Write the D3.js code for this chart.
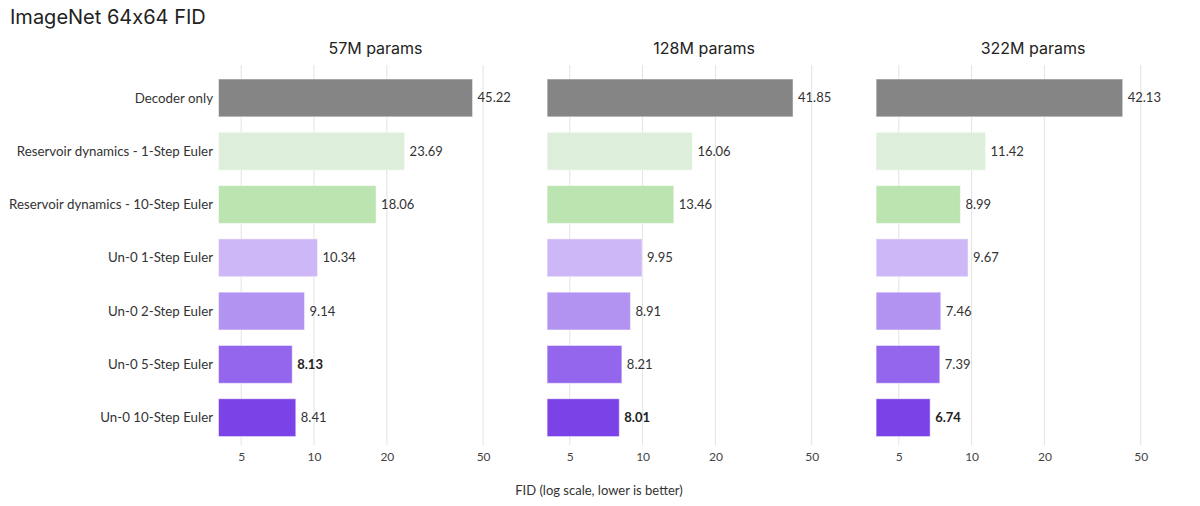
<!DOCTYPE html>
<html><head><meta charset="utf-8">
<script src="https://cdn.jsdelivr.net/npm/d3@7"></script>
<style>body{margin:0;background:#fff} .ttl{font-feature-settings:"calt" 0;}</style>
</head><body><svg id="c" width="1200" height="506"></svg>
<script>
const title = "ImageNet 64x64 FID";
const categories = ["Decoder only","Reservoir dynamics - 1-Step Euler","Reservoir dynamics - 10-Step Euler","Un-0 1-Step Euler","Un-0 2-Step Euler","Un-0 5-Step Euler","Un-0 10-Step Euler"];
const panels = ["57M params","128M params","322M params"];
const values57M = [45.22,23.69,18.06,10.34,9.14,8.13,8.41];
const values128M = [41.85,16.06,13.46,9.95,8.91,8.21,8.01];
const values322M = [42.13,11.42,8.99,9.67,7.46,7.39,6.74];
const tickValues = [5,10,20,50];
const colors = ["#858585","#ddefda","#bce4b0","#cdb7f6","#b393f1","#9366ed","#7b42e8"];
const xAxisLabel = "FID (log scale, lower is better)";
const series = [values57M, values128M, values322M];

const svg = d3.select("#c");
const labelFont = "Lato, 'Noto Sans', sans-serif";
const titleFont = "Inter, 'Open Sans', sans-serif";

svg.append("text").attr("class","ttl").attr("x",10).attr("y",24).attr("font-family",titleFont)
  .attr("font-size",20).attr("fill","#222").text(title);

const y = d3.scaleBand().domain(categories).range([71.3,444.3]).paddingInner(0.29).paddingOuter(0.145);
const panelLefts = [218.5, 547.1, 876.1];
const panelW = 314;

svg.append("g").selectAll("text").data(categories).join("text")
  .attr("x",213).attr("y",d=>y(d)+y.bandwidth()/2).attr("dy","0.35em")
  .attr("text-anchor","end").attr("font-family",labelFont).attr("font-size",13.3)
  .attr("fill","#333").text(d=>d);

panels.forEach((p,i)=>{
  const x = d3.scaleLog().domain([4.03,80]).range([panelLefts[i], panelLefts[i]+panelW]);
  const g = svg.append("g");
  g.append("text").attr("class","ttl").attr("x",panelLefts[i]+panelW/2).attr("y",54).attr("text-anchor","middle")
    .attr("font-family",titleFont).attr("font-size",16).attr("fill","#222").text(p);
  g.selectAll("line.grid").data(tickValues).join("line").attr("class","grid")
    .attr("x1",d=>x(d)).attr("x2",d=>x(d)).attr("y1",65).attr("y2",445)
    .attr("stroke","#e3e3e3").attr("stroke-width",1);
  const ax = g.append("g").attr("transform","translate(0,445)")
    .call(d3.axisBottom(x).tickValues(tickValues).tickFormat(d3.format("d")).tickSize(0).tickPadding(7));
  ax.select(".domain").remove();
  ax.selectAll("text").attr("font-family",labelFont).attr("font-size",12).attr("fill","#444");
  const vals = series[i];
  const minV = d3.min(vals);
  const base = x.domain()[0];
  g.selectAll("rect").data(vals).join("rect")
    .attr("x",x(base)).attr("y",(d,j)=>y(categories[j]))
    .attr("width",d=>x(d)-x(base)).attr("height",y.bandwidth())
    .attr("fill",(d,j)=>colors[j]).attr("stroke","#ffffff").attr("stroke-opacity",0.5).attr("stroke-width",1);
  g.selectAll("text.val").data(vals).join("text").attr("class","val")
    .attr("x",d=>x(d)+5).attr("y",(d,j)=>y(categories[j])+y.bandwidth()/2).attr("dy","0.35em")
    .attr("font-family",labelFont).attr("font-size",13)
    .attr("font-weight",d=>d===minV?"bold":"normal")
    .attr("fill",d=>d===minV?"#222":"#333").text(d=>d.toFixed(2));
});

svg.append("text").attr("x",599).attr("y",495).attr("text-anchor","middle")
  .attr("font-family",labelFont).attr("font-size",13).attr("fill","#333").text(xAxisLabel);
</script></body></html>
